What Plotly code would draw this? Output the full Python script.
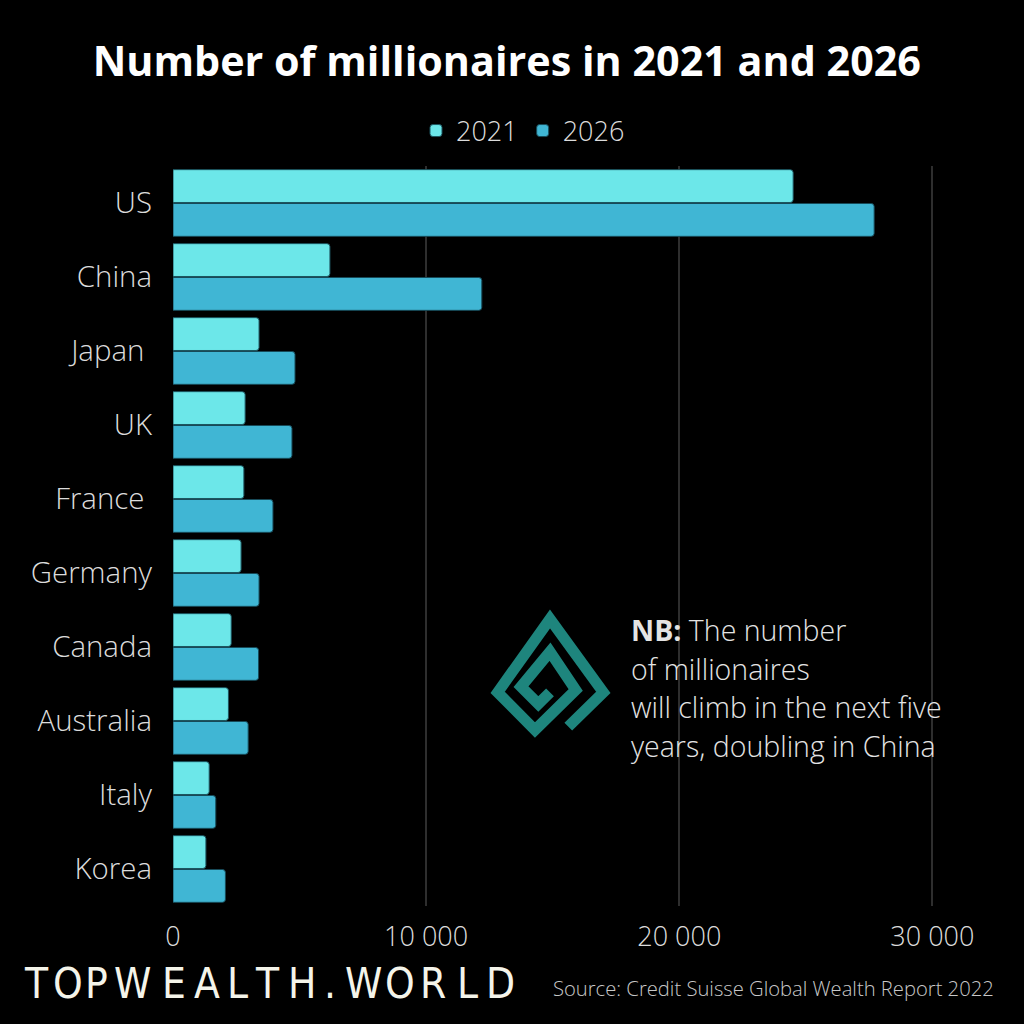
import plotly.graph_objects as go

# Datos: número de millonarios (miles)
countries = ["US", "China", "Japan ", "UK", "France ", "Germany", "Canada", "Australia", "Italy", "Korea"]
values_2021 = [24500, 6200, 3400, 2850, 2800, 2690, 2300, 2190, 1430, 1300]
values_2026 = [27700, 12200, 4820, 4700, 3950, 3400, 3380, 2970, 1690, 2070]
x_ticks = [0, 10000, 20000, 30000]
x_tick_labels = ["0", "10 000", "20 000", "30 000"]

# Geometría del área de trazado (en píxeles)
W, H = 1024, 1024
L, R, T, B = 173, 41, 166, 118
PW, PH = W - L - R, H - T - B


def px(x):
    return (x - L) / PW


def py(y):
    return (H - B - y) / PH


fig = go.Figure()
fig.add_trace(go.Bar(
    name="2021", y=countries, x=values_2021, orientation="h",
    marker=dict(color="#6ce7e9", line=dict(color="#1d5560", width=1), cornerradius=3),
))
fig.add_trace(go.Bar(
    name="2026", y=countries, x=values_2026, orientation="h",
    marker=dict(color="#40b6d4", line=dict(color="#174a58", width=1), cornerradius=3),
))

font_main = "Open Sans, Noto Sans, sans-serif"

fig.update_layout(
    width=W, height=H,
    paper_bgcolor="black", plot_bgcolor="black",
    margin=dict(l=L, r=R, t=T, b=B),
    barmode="group", bargap=0.085, bargroupgap=0.03,
    font=dict(family=font_main, color="#dcdcdc", size=27, weight=300),
    title=dict(
        text="<b>Number of millionaires in 2021 and 2026</b>",
        x=0.495, xref="container", xanchor="center",
        y=1 - 62 / H, yref="container", yanchor="middle",
        font=dict(family=font_main, size=41.3, color="white"),
    ),
    legend=dict(
        orientation="h", x=px(523), xanchor="center", y=py(131), yanchor="middle",
        font=dict(size=27, color="#dcdcdc", weight=300), bgcolor="rgba(0,0,0,0)",
        itemwidth=30, traceorder="normal",
    ),
    showlegend=True,
)

fig.update_xaxes(
    range=[0, 32000], tickvals=x_ticks, ticktext=x_tick_labels,
    showgrid=True, gridcolor="#2e2e2e", gridwidth=1.5, zeroline=False,
    showline=False, ticks="", ticklabelstandoff=12,
    tickfont=dict(size=27, color="#dcdcdc", weight=300),
)
fig.update_yaxes(
    categoryorder="array", categoryarray=countries, autorange="reversed",
    showgrid=False, zeroline=False, showline=False, ticks="",
    ticklabelstandoff=20, tickfont=dict(size=29.4, color="#dcdcdc", weight=300),
)

# Logo (espiral en forma de pica)
logo_pts = [(568.3, 726.7), (603.3, 692.3), (550, 619), (497.7, 692.3), (535, 730),
            (575.7, 690), (550, 651.7), (521, 686.7), (538.3, 704), (550, 692.3)]
path = "M " + " L ".join(f"{px(x):.5f},{py(y):.5f}" for x, y in logo_pts)
fig.add_shape(type="path", path=path, xref="paper", yref="paper",
              line=dict(color="#1e857d", width=11))

# Nota
nb_lines = ["<b>NB:</b> The number", "of millionaires", "will climb in the next five", "years, doubling in China"]
for i, line in enumerate(nb_lines):
    fig.add_annotation(
        text=line, xref="paper", yref="paper", x=px(629), y=py(630 + i * 38.7),
        xanchor="left", yanchor="middle", showarrow=False,
        font=dict(size=28.5, color="#e4e4e4", weight=300),
    )

# Fuente
fig.add_annotation(
    text="Source: Credit Suisse Global Wealth Report 2022", xref="paper", yref="paper",
    x=px(996), y=py(988), xanchor="right", yanchor="middle", showarrow=False,
    font=dict(size=20.2, color="#c8c8c8", weight=300),
)

# Marca TopWealth.World
brand = "TOPWEALTH.WORLD"
brand_x = [36, 68, 96, 132, 174, 207, 237, 267, 302, 330, 363, 400, 433, 467, 500]
for ch, bx in zip(brand, brand_x):
    fig.add_annotation(
        text=ch, xref="paper", yref="paper", x=px(bx), y=py(983),
        xanchor="center", yanchor="middle", showarrow=False,
        font=dict(family="DejaVu Sans Condensed, DejaVu Sans, sans-serif",
                  size=42, color="#f4f4ea", weight=300),
    )

fig.write_html(
    "out.html",
    config={"displayModeBar": False},
    post_script="document.body.style.margin='0';document.body.style.background='black';",
)
